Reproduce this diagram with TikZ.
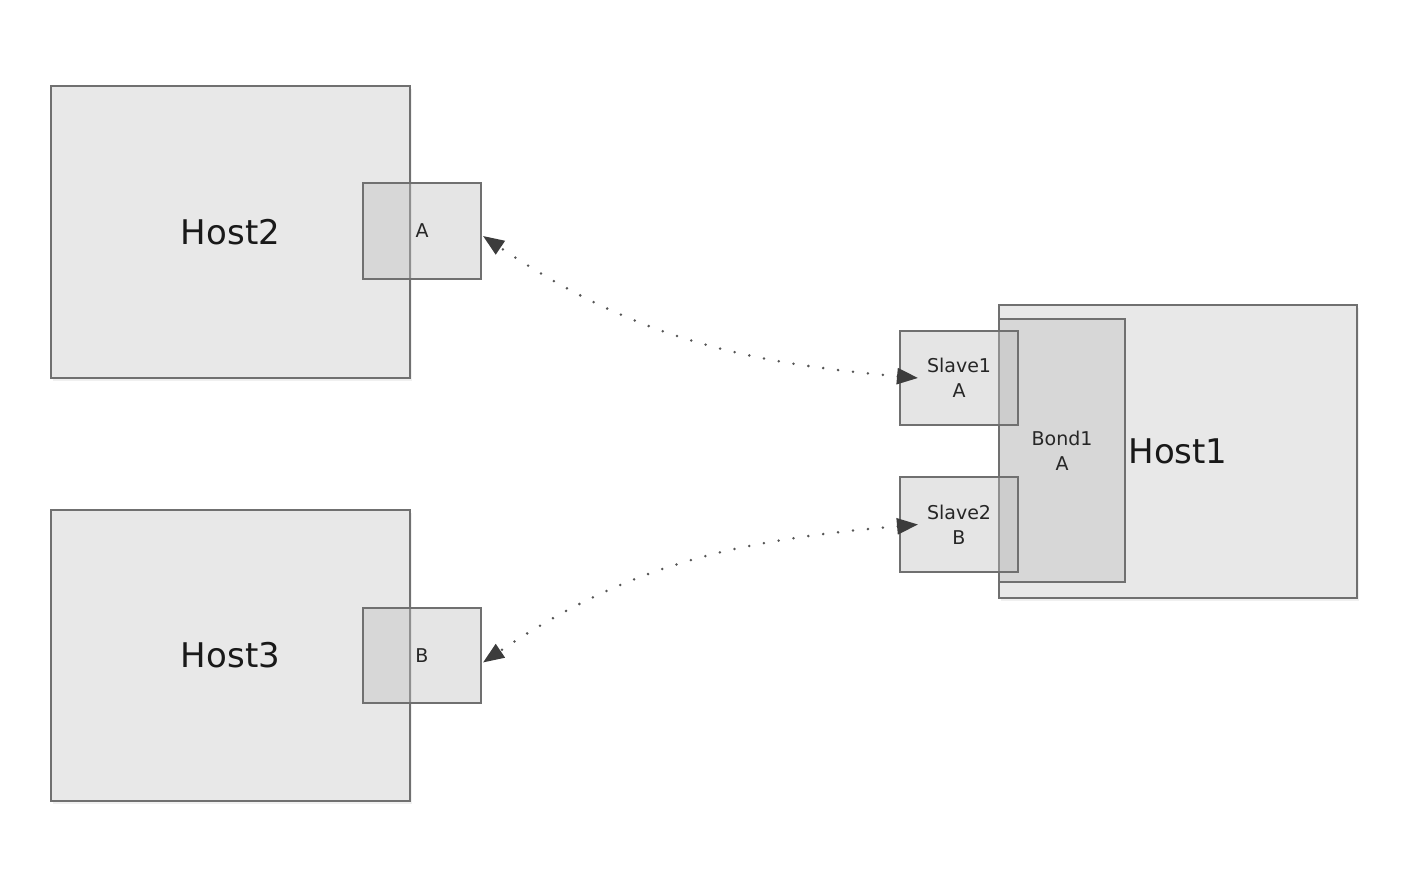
\documentclass[tikz,border=0pt]{standalone}
\usepackage{fontspec}
\setmainfont{DejaVu Sans}
\usepackage{tikz}
\usetikzlibrary{arrows.meta}
\usetikzlibrary{shadows}
\definecolor{hf}{HTML}{E8E8E8}
\definecolor{pf}{HTML}{BEBEBE}
\definecolor{bd}{HTML}{707070}
\definecolor{lk}{HTML}{555555}
\definecolor{ah}{HTML}{3C3C3C}
\tikzstyle{host} = [draw=bd, fill=hf, line width=1.4pt, inner sep=0pt, outer sep=0pt, text=black!90, font=\fontsize{34}{40}\selectfont, drop shadow={shadow xshift=2pt, shadow yshift=-3pt, opacity=0.12}]
\tikzstyle{port} = [draw=bd, fill=pf, fill opacity=0.4, text opacity=1, line width=1.4pt, inner sep=0pt, outer sep=0pt, align=center, text=black!85, font=\fontsize{19}{25}\selectfont]
\tikzstyle{link} = [draw=lk, line width=2.8pt, line cap=round, dash pattern=on 0pt off 15pt, arrows={Triangle[length=21pt,width=16pt,color=ah]-Triangle[length=21pt,width=16pt,color=ah]}]

\begin{document}
\begin{tikzpicture}[x=1pt,y=1pt]
			\useasboundingbox (0,0) rectangle (1426,890);
			\node[host, minimum width=359pt, minimum height=292pt] (host2) at (230.5,658) {Host2};
			\node[port, minimum width=118pt, minimum height=96pt] (porta) at (422,659) {A};
			\node[host, minimum width=359pt, minimum height=291pt] (host3) at (230.5,234.5) {Host3};
			\node[port, minimum width=118pt, minimum height=95pt] (portb) at (422,234.5) {B};
			\node[host, minimum width=358pt, minimum height=293pt] (host1) at (1178,438.5) {Host1};
			\node[port, minimum width=126pt, minimum height=263pt] (bond1) at (1062,439.5) {Bond1\\A};
			\node[port, minimum width=118pt, minimum height=94pt] (slave1) at (959,512) {Slave1\\A};
			\node[port, minimum width=118pt, minimum height=95pt] (slave2) at (959,365.5) {Slave2\\B};
			\coordinate (a1) at ([xshift=2pt,yshift=-5pt]porta.east);
			\coordinate (b1) at ([xshift=2pt,yshift=-7pt]portb.east);
			\coordinate (s1) at ([xshift=18pt]slave1.west);
			\coordinate (s2) at ([xshift=18pt]slave2.west);
			\draw[link] (s1) to[out=175,in=-34] (a1);
			\draw[link] (s2) to[out=185,in=34] (b1);
		\end{tikzpicture}
\end{document}
